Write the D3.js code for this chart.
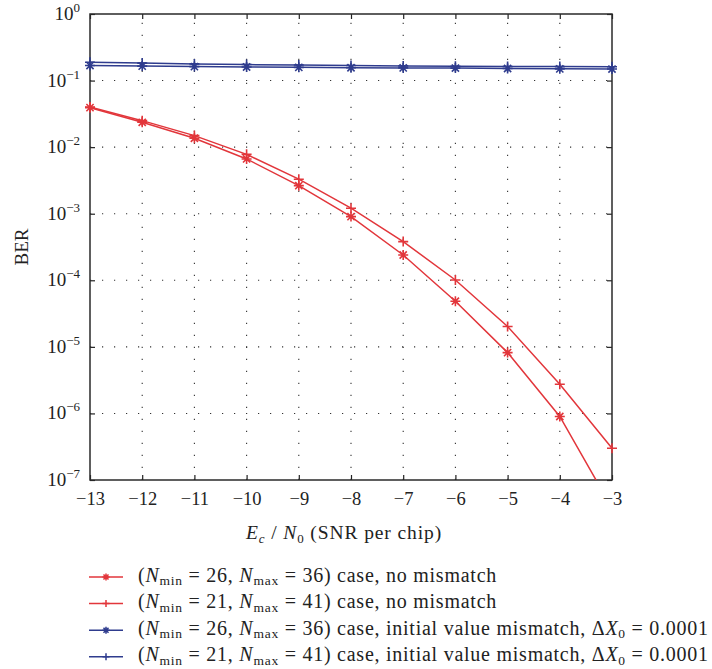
<!DOCTYPE html>
<html>
<head>
<meta charset="utf-8">
<script src="https://cdn.jsdelivr.net/npm/d3@7"></script>
<style>
  html, body { margin: 0; padding: 0; background: #fff; }
  svg { display: block; font-family: "Liberation Serif", "Times New Roman", serif; }
</style>
</head>
<body>
<svg id="chart" width="712" height="669"></svg>
<script>
// SNR per chip (dB)
const snr = [-13, -12, -11, -10, -9, -8, -7, -6, -5, -4, -3];
// BER, (Nmin = 26, Nmax = 36), no mismatch
const berA = [0.0392, 0.0236, 0.0136, 0.00665, 0.00264, 0.000905, 0.00024, 4.85e-5, 8.2e-6, 9.0e-7, 3.8e-8];
// BER, (Nmin = 21, Nmax = 41), no mismatch
const berB = [0.0400, 0.0250, 0.0149, 0.0078, 0.0033, 0.00121, 0.000381, 1.01e-4, 2.02e-5, 2.75e-6, 3.0e-7];
// BER, (Nmin = 26, Nmax = 36), initial value mismatch
const berC = [0.168, 0.165, 0.162, 0.160, 0.158, 0.156, 0.155, 0.154, 0.152, 0.150, 0.149];
// BER, (Nmin = 21, Nmax = 41), initial value mismatch
const berD = [0.188, 0.183, 0.178, 0.174, 0.171, 0.168, 0.166, 0.164, 0.163, 0.162, 0.161];

const xTickValues = [-13, -12, -11, -10, -9, -8, -7, -6, -5, -4, -3];
const yTickExponents = [0, -1, -2, -3, -4, -5, -6, -7];

const RED = "#e2363b";
const BLUE = "#2f3c8e";

const series = [
  { values: berA, color: RED,  marker: "star", nmin: 26, nmax: 36, tail: " case, no mismatch", delta: false },
  { values: berB, color: RED,  marker: "plus", nmin: 21, nmax: 41, tail: " case, no mismatch", delta: false },
  { values: berC, color: BLUE, marker: "star", nmin: 26, nmax: 36, tail: " case, initial value mismatch, ", delta: true },
  { values: berD, color: BLUE, marker: "plus", nmin: 21, nmax: 41, tail: " case, initial value mismatch, ", delta: true }
];

const svg = d3.select("#chart");
const mLeft = 90, mRight = 612, mTop = 14, mBottom = 480;

const x = d3.scaleLinear().domain([-13, -3]).range([mLeft, mRight]);
const y = d3.scaleLog().domain([1e-7, 1]).range([mBottom, mTop]);

// plot clip
svg.append("defs").append("clipPath").attr("id", "plotClip")
  .append("rect").attr("x", mLeft).attr("y", mTop)
  .attr("width", mRight - mLeft).attr("height", mBottom - mTop);

// dotted grid
const grid = svg.append("g").attr("stroke", "#333").attr("stroke-width", 1.1)
  .attr("stroke-dasharray", "1.2,10.8");
xTickValues.slice(1, -1).forEach(v => {
  grid.append("line").attr("x1", x(v)).attr("x2", x(v))
    .attr("y1", mBottom).attr("y2", mTop);
});
yTickExponents.slice(1, -1).forEach(e => {
  grid.append("line").attr("y1", y(Math.pow(10, e))).attr("y2", y(Math.pow(10, e)))
    .attr("x1", mLeft).attr("x2", mRight);
});

// axes with inward ticks
const fmtMinus = d => (d < 0 ? "\u2212" + Math.abs(d) : String(d));
const xAxis = svg.append("g").attr("transform", `translate(0,${mBottom})`)
  .call(d3.axisBottom(x).tickValues(xTickValues).tickFormat(fmtMinus)
    .tickSizeInner(-5).tickSizeOuter(0).tickPadding(12));
xAxis.selectAll("text").attr("font-size", 18.5).attr("fill", "#222")
  .attr("font-family", "Liberation Serif, serif");

svg.append("g").attr("transform", `translate(0,${mTop})`)
  .call(d3.axisTop(x).tickValues(xTickValues).tickFormat("")
    .tickSizeInner(-5).tickSizeOuter(0));

const yVals = yTickExponents.map(e => Math.pow(10, e));
svg.append("g").attr("transform", `translate(${mLeft},0)`)
  .call(d3.axisLeft(y).tickValues(yVals).tickFormat("")
    .tickSizeInner(-5).tickSizeOuter(0));
svg.append("g").attr("transform", `translate(${mRight},0)`)
  .call(d3.axisRight(y).tickValues(yVals).tickFormat("")
    .tickSizeInner(-5).tickSizeOuter(0));

svg.selectAll(".domain").remove();
svg.selectAll(".tick line").attr("stroke", "#222").attr("stroke-width", 1.2);

// frame
svg.append("rect").attr("x", mLeft).attr("y", mTop)
  .attr("width", mRight - mLeft).attr("height", mBottom - mTop)
  .attr("fill", "none").attr("stroke", "#2a2a2a").attr("stroke-width", 1.5);

// y tick labels as powers of ten
yTickExponents.forEach(e => {
  const t = svg.append("text").attr("x", mLeft - 10).attr("y", y(Math.pow(10, e)) + 6)
    .attr("text-anchor", "end").attr("font-size", 19).attr("fill", "#222");
  t.append("tspan").text("10");
  t.append("tspan").attr("dy", -8).attr("font-size", 13)
    .text(e < 0 ? "\u2212" + Math.abs(e) : String(e));
});

// axis titles
const xt = svg.append("text").attr("x", 344).attr("y", 539)
  .attr("text-anchor", "middle").attr("font-size", 19.5).attr("fill", "#222")
  .attr("letter-spacing", 0.9);
xt.append("tspan").attr("font-style", "italic").text("E");
xt.append("tspan").attr("font-style", "italic").attr("font-size", 13).attr("dy", 4).text("c");
xt.append("tspan").attr("dy", -4).text(" / ");
xt.append("tspan").attr("font-style", "italic").text("N");
xt.append("tspan").attr("font-size", 13).attr("dy", 4).text("0");
xt.append("tspan").attr("dy", -4).text(" (SNR per chip)");

svg.append("text").attr("transform", `translate(28,${(mTop + mBottom) / 2}) rotate(-90)`)
  .attr("text-anchor", "middle").attr("font-size", 19).attr("fill", "#222").text("BER");

// marker shapes
function markerPath(kind, r) {
  if (kind === "plus") {
    return `M${-r},0H${r}M0,${-r}V${r}`;
  }
  const d = r * 0.72;
  return `M${-r},0H${r}M0,${-r}V${r}M${-d},${-d}L${d},${d}M${-d},${d}L${d},${-d}`;
}

const line = d3.line().x((d, i) => x(snr[i])).y(d => y(d));
const plot = svg.append("g").attr("clip-path", "url(#plotClip)");

series.forEach(s => {
  plot.append("path").datum(s.values).attr("d", line)
    .attr("fill", "none").attr("stroke", s.color).attr("stroke-width", 1.5);
});
// markers for points inside the y range
series.forEach(s => {
  const pts = s.values.map((v, i) => [snr[i], v]).filter(p => p[1] >= 1e-7);
  svg.append("g").selectAll("path").data(pts)
    .join("path")
    .attr("transform", d => `translate(${x(d[0])},${y(d[1])})`)
    .attr("d", markerPath(s.marker, 5))
    .attr("fill", "none").attr("stroke", s.color).attr("stroke-width", 1.6);
});

// legend
const legend = svg.append("g");
series.forEach((s, i) => {
  const ly = 577 + i * 26.6;
  legend.append("line").attr("x1", 89).attr("x2", 123).attr("y1", ly).attr("y2", ly)
    .attr("stroke", s.color).attr("stroke-width", 1.5);
  legend.append("path").attr("transform", `translate(106,${ly})`)
    .attr("d", markerPath(s.marker, 3.5)).attr("fill", "none")
    .attr("stroke", s.color).attr("stroke-width", 1.5);
  const t = legend.append("text").attr("x", 138).attr("y", ly + 4.5)
    .attr("font-size", 20).attr("fill", "#222").attr("letter-spacing", 0.75);
  t.append("tspan").text("(");
  t.append("tspan").attr("font-style", "italic").text("N");
  t.append("tspan").attr("font-size", 13.5).attr("dy", 3.5).text("min");
  t.append("tspan").attr("dy", -3.5).text(` = ${s.nmin}, `);
  t.append("tspan").attr("font-style", "italic").text("N");
  t.append("tspan").attr("font-size", 13.5).attr("dy", 3.5).text("max");
  t.append("tspan").attr("dy", -3.5).text(` = ${s.nmax})${s.tail}`);
  if (s.delta) {
    t.append("tspan").text("\u0394");
    t.append("tspan").attr("font-style", "italic").text("X");
    t.append("tspan").attr("font-size", 13.5).attr("dy", 3.5).text("0");
    t.append("tspan").attr("dy", -3.5).text(" = 0.0001");
  }
});
</script>
</body>
</html>
